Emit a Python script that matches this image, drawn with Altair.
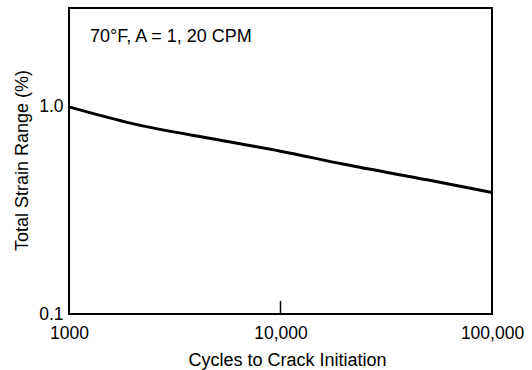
import altair as alt
import pandas as pd

cycles = [1000, 2000, 5000, 10000, 20000, 50000, 100000]
strain = [1.0, 0.83, 0.695, 0.611, 0.528, 0.443, 0.386]
x_ticks = [1000, 10000, 100000]
y_ticks = [0.1, 1.0]
note = "70°F, A = 1, 20 CPM"

FONT = "Liberation Sans"
FS = 18
W, H = 423, 306

df = pd.DataFrame({"cycles": cycles, "strain": strain})

xscale = alt.Scale(type="log", domain=[1000, 100000], nice=False)
yscale = alt.Scale(type="log", domain=[0.1, 3.0], nice=False)

line = alt.Chart(df).mark_line(color="black", strokeWidth=3, interpolate="monotone").encode(
    x=alt.X("cycles:Q", scale=xscale, title="Cycles to Crack Initiation",
            axis=alt.Axis(values=x_ticks, ticks=False, domain=False, grid=False,
                          labelExpr="datum.value == 1000 ? '1000' : format(datum.value, ',')",
                          labelFont=FONT, labelFontSize=FS - 0.5, labelColor="black", labelPadding=10,
                          labelFlush=False, labelOverlap=False,
                          titleFont=FONT, titleFontSize=FS, titleFontWeight="normal", titleColor="black",
                          titleBaseline="alphabetic", titleY=51, titleX=218, titleAlign="center")),
    y=alt.Y("strain:Q", scale=yscale, title="Total Strain Range (%)",
            axis=alt.Axis(values=y_ticks, ticks=False, domain=False, grid=False,
                          labelExpr="format(datum.value, '.1f')",
                          labelFont=FONT, labelFontSize=FS - 0.5, labelColor="black", labelPadding=6,
                          labelFlush=False, labelOverlap=False,
                          titleFont=FONT, titleFontSize=FS, titleFontWeight="normal", titleColor="black",
                          titleBaseline="alphabetic", titleX=-42, titleY=152, titleAlign="center", titleAngle=270)),
)

tick = alt.Chart(pd.DataFrame({"cycles": [10000]})).mark_rule(color="black", strokeWidth=1.5).encode(
    x=alt.X("cycles:Q", scale=xscale),
    y=alt.value(H),
    y2=alt.value(H - 13),
)

label = alt.Chart(pd.DataFrame({"t": [note]})).mark_text(
    font=FONT, fontSize=FS, align="left", baseline="middle", color="black"
).encode(text="t:N", x=alt.value(21), y=alt.value(29))

chart = alt.layer(line, tick, label).properties(
    width=W, height=H,
    background="white",
    autosize=alt.AutoSizeParams(type="none"),
    padding={"left": 69, "top": 8, "right": 40, "bottom": 56},
).configure_view(stroke="black", strokeWidth=2, strokeOpacity=1)

chart.save("out.html", embed_options={"renderer": "svg", "actions": False})
